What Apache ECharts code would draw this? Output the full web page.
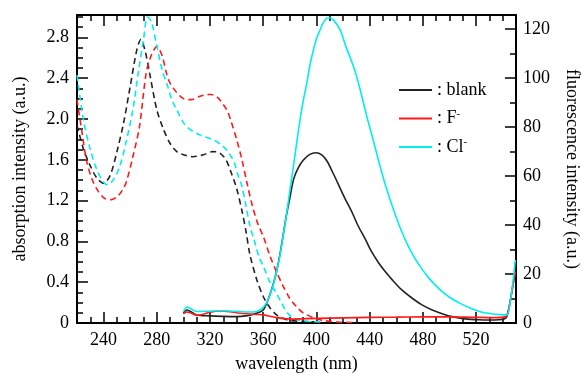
<!DOCTYPE html>
<html>
<head>
<meta charset="utf-8">
<script src="https://cdn.jsdelivr.net/npm/echarts@6/dist/echarts.min.js"></script>
<style>html,body{margin:0;padding:0;background:#fff}#c{width:582px;height:374px}</style>
</head>
<body>
<div id="c"></div>
<script>
// Absorption (left axis, dashed)
var blankAbsX = [220,225,230,235,240,245,250,255,260,265,268,271,275,280,285,290,295,300,307,315,322,327,332,336,340,344,347,350,355,360,365,370,375,380,390,400];
var blankAbsY = [1.94,1.70,1.54,1.42,1.37,1.45,1.68,1.96,2.32,2.68,2.78,2.68,2.42,2.09,1.90,1.76,1.68,1.65,1.63,1.65,1.68,1.67,1.60,1.47,1.32,1.10,0.90,0.67,0.43,0.26,0.15,0.08,0.045,0.025,0.015,0.01];
var fAbsX = [220,224,227,231,236,241,246,251,254,257,262,267,272,276,280,284,287,290,295,300,306,312,318,321,325,329,333,336,340,344,348,352,356,360,365,370,375,380,385,390,398,405,415,430];
var fAbsY = [2.19,1.85,1.60,1.42,1.29,1.22,1.21,1.25,1.30,1.38,1.63,1.93,2.45,2.63,2.71,2.62,2.46,2.35,2.26,2.20,2.19,2.22,2.24,2.24,2.22,2.16,2.08,1.97,1.80,1.60,1.36,1.14,0.97,0.85,0.66,0.50,0.36,0.24,0.16,0.10,0.05,0.025,0.01,0.005];
var clAbsX = [220,225,230,235,240,243,247,252,257,262,266,270,273,276,280,284,288,291,295,302,312,322,330,334,338,341,344,347,350,353,357,360,365,370,374,378,383,388,395,405];
var clAbsY = [2.43,1.98,1.70,1.50,1.38,1.355,1.40,1.53,1.78,2.09,2.45,2.78,3.00,2.95,2.72,2.48,2.33,2.20,2.09,1.93,1.845,1.80,1.73,1.67,1.58,1.45,1.34,1.15,0.95,0.82,0.64,0.56,0.40,0.29,0.19,0.10,0.045,0.025,0.015,0.01];

// Fluorescence (right axis, solid)
var blankFlX = [300,302.5,305,310,320,330,340,347,352,356,360,364,367.7,370,372.7,375,377.7,380,382.7,386,390.2,395,399.5,404,408,412.8,416.8,421,426.9,431,436.9,441,446.9,452,457,464,472,479,487,495,502,512,522,530,537,541,543,544.7,546,547.5,549.5];
var blankFlY = [4.0,5.3,4.8,3.3,2.9,2.7,2.6,2.9,3.5,4.2,5.3,10,16.2,21,28.4,36,44.8,51,58.4,63,66.5,68.8,69.5,68.6,66,60.8,56.2,51.3,45,40,34,29.5,24.4,20.8,17.6,13.6,10.1,7.5,5.3,3.7,2.6,1.7,1.3,1.2,1.3,1.6,2.5,6,10,15,21];
var fFlX = [300,302.5,305,310,315,320,327.6,335,342.6,350,355,360,370,380,400,420,440,460,480,500,520,535,541,543,545,547,549.5];
var fFlY = [3.8,4.5,4.2,3.2,3.6,4.4,4.9,4.6,4.0,3.7,3.5,3.3,2.2,1.6,1.9,2.1,2.3,2.4,2.5,2.5,2.3,2.2,2.4,3.0,7.0,13,21];
var clFlX = [300,302.5,305,310,318,327.6,335,342,348,352.6,357.6,361,364,367.7,370,372.7,375,377.7,380,382.7,385,387.7,390,392.7,395,397.7,400,402.7,405,407.8,410,413,417.8,422,427.9,432,437.9,442,447.9,452,458,463,468,473,478,485,493,500,508,515,523,530,538,543.2,545.5,547.5,549.5];
var clFlY = [4.6,6.5,6.0,4.7,4.8,5.0,4.9,4.7,4.5,4.5,5.3,7,10,16,21,28,36,45,54,64,73,83,90.5,97.8,105,111.4,116,119.6,122.5,124.4,124.6,123.5,119.6,113,104.6,97,84.2,76,63.8,56,46.1,38.8,32.5,27.3,23,18,13.5,10.5,8,6.2,4.6,3.9,3.4,3.3,8,16,25.7];

var xMajor = [240,280,320,360,400,440,480,520];

function pairs(xs, ys){ return xs.map(function(x,i){ return [x, ys[i]]; }); }

var FONT = 'Liberation Serif';
var BLACK = '#222222', RED = '#ff1a1a', CYAN = '#00eeee';

var chart = echarts.init(document.getElementById('c'), null, {renderer:'canvas'});
var axisLine = {show:true, lineStyle:{color:'#000', width:2}};
var lbl = {color:'#000', fontFamily:FONT, fontSize:18};

function absSeries(name, xs, ys, color){
  return {name:name, type:'line', xAxisIndex:0, yAxisIndex:0, data:pairs(xs,ys), smooth:0.3, showSymbol:false, symbol:'none',
    lineStyle:{color:color, width:1.6, type:[6,4]}, itemStyle:{color:color}, z:3};
}
function flSeries(name, xs, ys, color){
  return {name:name, type:'line', xAxisIndex:0, yAxisIndex:1, data:pairs(xs,ys), smooth:0.3, showSymbol:false, symbol:'none',
    lineStyle:{color:color, width:1.6}, itemStyle:{color:color}, z:4};
}

chart.setOption({
  animation:false,
  backgroundColor:'#fff',
  grid:{left:77, right:66, top:15, bottom:51, containLabel:false, outerBoundsMode:'none'},
  legend:{
    data:['blank','F','Cl'], orient:'vertical', left:394, top:75, itemWidth:33, itemHeight:2, itemGap:8.5, icon:'rect',
    textStyle:{color:'#000', fontFamily:FONT, fontSize:18, lineHeight:20,
      rich:{s:{fontSize:11, fontFamily:FONT, color:'#000', verticalAlign:'top', lineHeight:10}}},
    formatter:function(n){ return n==='blank' ? ': blank' : ': ' + n + '{s|-}'; }
  },
  xAxis:[
    {type:'value', position:'bottom', min:220, max:550, axisLine:axisLine,
      axisTick:{show:true, inside:true, length:11, customValues:xMajor, lineStyle:{color:'#000', width:1.5}},
      axisLabel:Object.assign({customValues:xMajor, margin:8}, lbl), splitLine:{show:false},
      name:'wavelength (nm)', nameLocation:'middle', nameGap:32, nameTextStyle:lbl},
    {type:'value', position:'bottom', min:220, max:550, interval:10, axisLine:{show:false},
      axisTick:{show:true, inside:true, length:6, lineStyle:{color:'#000', width:1.5}}, axisLabel:{show:false}, splitLine:{show:false}},
    {type:'value', position:'top', min:220, max:550, axisLine:axisLine,
      axisTick:{show:true, inside:true, length:11, customValues:xMajor, lineStyle:{color:'#000', width:1.5}},
      axisLabel:{show:false}, splitLine:{show:false}},
    {type:'value', position:'top', min:220, max:550, interval:10, axisLine:{show:false},
      axisTick:{show:true, inside:true, length:6, lineStyle:{color:'#000', width:1.5}}, axisLabel:{show:false}, splitLine:{show:false}}
  ],
  yAxis:[
    {type:'value', position:'left', min:0, max:3.02, interval:0.4, axisLine:axisLine,
      axisTick:{show:true, inside:true, length:11, lineStyle:{color:'#000', width:1.5}},
      minorTick:{show:true, splitNumber:4, length:6, lineStyle:{color:'#000', width:1.5}},
      axisLabel:Object.assign({margin:8, showMaxLabel:false, formatter:function(v){ return v===0?'0':v.toFixed(1);} }, lbl),
      splitLine:{show:false}, minorSplitLine:{show:false},
      name:'absorption intensity (a.u.)', nameLocation:'middle', nameRotate:90, nameGap:48, nameTextStyle:lbl},
    {type:'value', position:'right', min:0, max:125.7, interval:20, axisLine:axisLine,
      axisTick:{show:true, inside:true, length:11, lineStyle:{color:'#000', width:1.5}},
      minorTick:{show:true, splitNumber:2, length:6, lineStyle:{color:'#000', width:1.5}},
      axisLabel:Object.assign({margin:7, showMaxLabel:false}, lbl),
      splitLine:{show:false}, minorSplitLine:{show:false},
      name:'fluorescence intensity (a.u.)', nameLocation:'middle', nameRotate:-90, nameGap:47, nameTextStyle:lbl}
  ],
  series:[
    flSeries('blank', blankFlX, blankFlY, BLACK),
    flSeries('F', fFlX, fFlY, RED),
    flSeries('Cl', clFlX, clFlY, CYAN),
    absSeries('blank abs', blankAbsX, blankAbsY, BLACK),
    absSeries('F abs', fAbsX, fAbsY, RED),
    absSeries('Cl abs', clAbsX, clAbsY, CYAN)
  ]
});
</script>
</body>
</html>
